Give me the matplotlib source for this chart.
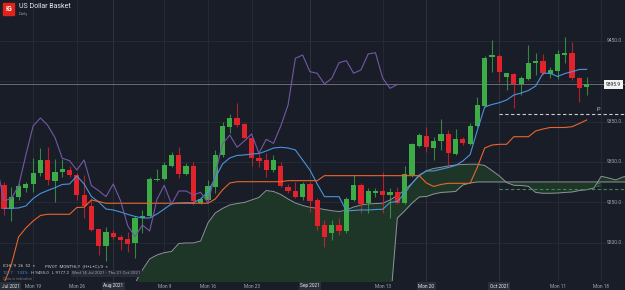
import numpy as np
import matplotlib.pyplot as plt
from matplotlib.patches import Rectangle

plt.rcParams['font.family'] = ['Roboto', 'DejaVu Sans']

# daily candles, Wed 14 Jul 2021 .. Fri 15 Oct 2021 (Sunday sessions included)
opens = [9271.8, 9241.7, 9256.2, 9268.1, 9272.3, 9286.7, 9302.4, 9276.8, 9287.5, 9290.0,
         9283.8, 9259.1, 9245.8, 9216.6, 9196.3, 9212.4, 9207.5, 9204.2, 9199.3, 9230.2,
         9233.4, 9277.3, 9278.9, 9295.0, 9308.2, 9285.1, 9295.0, 9249.5, 9252.9, 9269.3,
         9308.6, 9343.6, 9354.4, 9347.3, 9330.0, 9304.9, 9302.4, 9290.0, 9294.6, 9269.3,
         9264.4, 9257.0, 9272.7, 9252.9, 9221.9, 9212.4, 9221.9, 9214.5, 9252.9, 9271.1,
         9248.8, 9261.2, 9264.4, 9259.1, 9262.4, 9249.5, 9283.4, 9319.7, 9332.1, 9317.6,
         9325.9, 9334.6, 9309.8, 9328.7, 9322.6, 9344.5, 9369.2, 9429.5, 9431.1, 9405.5,
         9408.8, 9396.4, 9402.6, 9422.8, 9424.9, 9408.8, 9412.9, 9432.3, 9435.2, 9403.5,
         9392.4]
highs = [9275.5, 9268.6, 9273.9, 9275.5, 9304.9, 9317.2, 9318.8, 9303.6, 9303.6, 9295.0,
         9286.3, 9283.8, 9255.4, 9217.0, 9219.8, 9215.8, 9209.6, 9213.6, 9233.1, 9240.5,
         9281.7, 9290.9, 9300.3, 9312.7, 9318.8, 9299.0, 9300.3, 9256.6, 9277.7, 9314.8,
         9349.8, 9359.3, 9373.3, 9348.5, 9331.2, 9311.1, 9311.1, 9308.6, 9300.3, 9272.7,
         9275.5, 9275.5, 9275.5, 9255.4, 9228.2, 9228.2, 9230.6, 9257.0, 9283.8, 9273.5,
         9267.7, 9268.1, 9287.9, 9268.1, 9268.6, 9295.0, 9323.8, 9335.8, 9343.6, 9331.2,
         9352.8, 9339.5, 9341.1, 9331.2, 9348.5, 9380.7, 9431.1, 9450.9, 9433.6, 9410.4,
         9409.7, 9406.3, 9444.7, 9434.4, 9433.6, 9417.1, 9438.5, 9455.0, 9448.8, 9405.5,
         9404.7]
lows = [9234.3, 9227.3, 9252.9, 9263.2, 9263.2, 9282.6, 9271.5, 9250.8, 9281.7, 9281.7,
        9252.9, 9231.0, 9214.5, 9184.8, 9177.2, 9204.6, 9191.0, 9188.9, 9181.1, 9212.0,
        9231.8, 9276.4, 9277.7, 9293.7, 9279.7, 9283.8, 9246.7, 9248.5, 9251.6, 9261.5,
        9306.5, 9335.8, 9343.2, 9329.3, 9295.0, 9294.1, 9281.7, 9287.5, 9269.3, 9261.2,
        9255.0, 9252.9, 9238.4, 9215.8, 9194.3, 9203.4, 9209.6, 9211.7, 9251.6, 9236.4,
        9236.4, 9257.0, 9236.4, 9230.2, 9247.9, 9247.9, 9281.7, 9318.5, 9312.7, 9302.4,
        9314.8, 9296.2, 9308.6, 9320.9, 9320.9, 9343.2, 9368.4, 9411.7, 9399.3, 9389.0,
        9366.4, 9382.8, 9401.4, 9407.6, 9407.6, 9403.5, 9402.3, 9422.1, 9401.4, 9374.5,
        9382.8]
closes = [9241.7, 9256.2, 9270.2, 9272.7, 9286.3, 9302.4, 9277.7, 9287.5, 9291.3, 9284.2,
          9258.7, 9245.5, 9215.8, 9196.3, 9213.6, 9207.5, 9203.8, 9198.8, 9230.2, 9233.4,
          9278.9, 9279.3, 9296.2, 9308.2, 9285.1, 9295.0, 9252.0, 9254.5, 9270.2, 9308.6,
          9344.5, 9354.4, 9345.3, 9330.0, 9304.5, 9301.5, 9290.0, 9302.4, 9270.6, 9264.4,
          9257.0, 9272.7, 9252.0, 9220.7, 9207.5, 9221.9, 9214.5, 9253.7, 9271.1, 9247.6,
          9264.0, 9264.0, 9259.1, 9262.4, 9249.5, 9285.1, 9322.2, 9333.3, 9318.1, 9325.9,
          9334.6, 9310.7, 9328.0, 9323.0, 9344.5, 9370.5, 9428.2, 9432.3, 9411.7, 9409.7,
          9396.4, 9403.5, 9422.8, 9425.3, 9409.7, 9413.8, 9433.6, 9435.2, 9403.5, 9391.1,
          9395.9]

# Ichimoku (9, 26, 52)
tenkan = [9242.6, 9242.6, 9243.0, 9245.5, 9254.7, 9260.9, 9264.6, 9268.1, 9272.1, 9272.7,
          9282.6, 9272.7, 9257.2, 9250.4, 9241.7, 9240.5, 9238.0, 9235.0, 9232.5, 9230.6,
          9230.6, 9235.5, 9241.7, 9248.0, 9249.2, 9249.5, 9249.5, 9254.1, 9262.8, 9280.1,
          9297.4, 9304.9, 9308.0, 9308.6, 9309.8, 9310.4, 9313.5, 9317.2, 9318.1, 9317.2,
          9314.8, 9302.4, 9290.0, 9272.7, 9257.0, 9257.0, 9257.0, 9239.3, 9239.9, 9240.5,
          9240.5, 9241.1, 9241.4, 9249.8, 9251.0, 9260.9, 9273.3, 9283.8, 9288.8, 9288.8,
          9290.9, 9293.1, 9295.6, 9301.1, 9309.2, 9339.5, 9368.0, 9371.1, 9373.3, 9376.6,
          9382.8, 9385.3, 9388.4, 9394.0, 9409.7, 9409.7, 9405.7, 9409.4, 9411.7, 9414.4,
          9414.6]
kijun = [9150.0, 9172.4, 9207.1, 9218.2, 9226.9, 9233.7, 9235.2, 9235.2, 9235.2, 9235.2,
         9243.6, 9243.9, 9252.9, 9251.0, 9248.8, 9248.8, 9248.8, 9248.8, 9248.8, 9248.8,
         9248.8, 9248.8, 9248.8, 9248.8, 9248.8, 9248.8, 9248.8, 9248.8, 9248.8, 9254.1,
         9265.3, 9273.9, 9275.5, 9275.5, 9275.5, 9275.5, 9275.5, 9275.5, 9275.5, 9276.8,
         9276.8, 9276.8, 9276.8, 9276.8, 9283.0, 9283.0, 9283.0, 9283.0, 9283.0, 9283.0,
         9283.0, 9283.0, 9283.0, 9283.0, 9283.0, 9283.0, 9283.0, 9283.0, 9273.9, 9269.6,
         9272.1, 9273.5, 9273.5, 9273.5, 9273.5, 9293.7, 9317.2, 9320.9, 9321.8, 9321.8,
         9331.2, 9331.2, 9331.2, 9338.3, 9340.7, 9342.6, 9342.6, 9342.6, 9343.6, 9347.6,
         9351.9]
cloud_start = 18
span_a = [9150.1, 9166.2, 9179.9, 9184.8, 9187.7, 9189.1, 9199.0, 9199.7, 9199.7, 9202.1,
          9224.4, 9236.8, 9242.4, 9246.7, 9248.5, 9249.8, 9252.9, 9256.0, 9264.6, 9263.4,
          9259.7, 9254.1, 9249.2, 9246.1, 9243.8, 9242.6, 9241.1, 9239.6, 9238.6, 9240.3,
          9244.2, 9246.7, 9247.9, 9248.5, 9248.9, 9252.9, 9258.4, 9265.3, 9273.5, 9282.6,
          9289.1, 9291.9, 9293.3, 9295.0, 9296.2, 9296.8, 9297.1, 9297.1, 9295.6, 9289.4,
          9282.6, 9274.5, 9271.1, 9270.8, 9269.8, 9262.2, 9261.2, 9261.2, 9261.5, 9262.2,
          9262.8, 9264.6, 9265.6, 9267.7, 9282.2, 9280.1, 9277.7, 9281.4, 9282.6]
span_b = [9120.0, 9120.0, 9120.0, 9120.0, 9120.0, 9120.0, 9120.0, 9120.0, 9120.0, 9120.0,
          9120.0, 9120.0, 9120.0, 9120.0, 9120.0, 9120.0, 9120.0, 9120.0, 9120.0, 9120.0,
          9120.0, 9120.0, 9120.0, 9120.0, 9120.0, 9120.0, 9120.0, 9120.0, 9120.0, 9120.0,
          9120.0, 9120.0, 9120.0, 9120.0, 9120.0, 9120.0, 9230.6, 9239.3, 9248.8, 9256.6,
          9257.2, 9260.3, 9262.2, 9262.8, 9263.4, 9271.5, 9273.9, 9275.2, 9275.2, 9275.2,
          9275.2, 9275.2, 9275.2, 9275.2, 9275.2, 9275.2, 9275.2, 9275.2, 9275.2, 9275.2,
          9275.2, 9275.2, 9275.2, 9275.2, 9275.2, 9275.2, 9275.2, 9275.2, 9275.2]
chikou_shift = 26

# monthly pivot (October)
pivot_p = 9359.3
pivot_s1 = 9266.1
pivot_from = 68

last_price = 9395.9
y_ticks = [9200, 9250, 9300, 9350, 9400, 9450]
y_labels = ['9200.0', '9250.0', '9300.0', '9350.0', '', '9450.0']
x_tick_idx = [4, 10, 15, 22, 28, 34, 42, 52, 58, 68, 76, 82]
x_tick_labels = ['Mon 19', 'Mon 26', 'Aug 2021', 'Mon 9', 'Mon 16', 'Mon 23',
                 'Sep 2021', 'Mon 13', 'Mon 20', 'Oct 2021', 'Mon 11', 'Mon 18']

bg = '#191d28'
grid_c = '#272c38'
green = '#3dac47'
red = '#e3232b'

fig = plt.figure(figsize=(6.25, 2.9), dpi=100, facecolor=bg)
ax = fig.add_axes([0, 9 / 290, 1, 281 / 290], facecolor=bg)
for s in ax.spines.values():
    s.set_visible(False)
ax.set_xticks([])
ax.set_yticks([])
ax.set_xlim(-0.55, 85.26)
ax.set_ylim(9152.6, 9500.4)

for v in y_ticks:
    ax.axhline(v, color=grid_c, lw=0.6, zorder=0)
for i, lab in zip(x_tick_idx, x_tick_labels):
    ax.axvline(i, color='#30353f' if '20' in lab else grid_c, lw=0.6, zorder=0)

# cloud
ci = np.arange(cloud_start, cloud_start + len(span_a))
ax.fill_between(ci, span_a, span_b, color='#1e3628', lw=0, zorder=1)
ax.plot(ci, span_a, color='#8e9595', lw=0.7, zorder=2)
ax.plot(ci, span_b, color='#8e9595', lw=0.7, zorder=2)

# candles
idx = np.arange(len(closes))
o = np.array(opens)
c = np.array(closes)
up = c >= o
cols = np.where(up, green, red)
ax.vlines(idx, lows, highs, colors=cols, lw=0.8, alpha=0.75, zorder=3)
ax.bar(idx, np.maximum(np.abs(c - o), 1.2), bottom=np.minimum(o, c), width=0.72,
       color=cols, lw=0, zorder=3)

# lines
ax.plot(idx, tenkan, color='#4a94dc', lw=0.8, zorder=4)
ax.plot(idx, kijun, color='#e8652a', lw=0.8, zorder=4)
ch = closes[chikou_shift - 1:]
ax.plot(np.arange(-1, len(ch) - 1), ch, color='#7458a4', lw=0.8, zorder=4)

# last price
ax.axhline(last_price, color='#737884', lw=0.6, zorder=2)
yt = ax.get_yaxis_transform()
ax.text(0.9695, last_price, f'{last_price:.1f}', transform=yt, fontsize=3.6, color='#1b1f2a',
        va='center', ha='left', zorder=6,
        bbox=dict(boxstyle='square,pad=0.35', fc='#f2f2f2', ec='none'))
for v, lab in zip(y_ticks, y_labels):
    ax.text(0.9715, v, lab, transform=yt, fontsize=3.6, color='#9aa0aa', va='center', ha='left')

# pivot lines
ax.hlines(pivot_p, pivot_from, 85.3, colors='#c8cbd0', lw=0.8, linestyles=(0, (3, 2.2)), zorder=2)
ax.hlines(pivot_s1, pivot_from, 85.3, colors='#3e8a52', lw=0.8, linestyles=(0, (3, 2.2)), zorder=2)
ax.text(81.3, pivot_p + 2.5, 'P', color='#c8cbd0', fontsize=4, va='bottom')
ax.text(81.3, pivot_s1 + 1, 'S1', color='#3fa055', fontsize=4, va='bottom')

# x labels
xt = ax.get_xaxis_transform()
yl = -5 / 281
ax.text(-0.3, yl, 'Jul 2021', transform=xt, fontsize=3.4, color='#e6e8eb', va='center', ha='left',
        bbox=dict(boxstyle='square,pad=0.3', fc='#2a2f3a', ec='none'), clip_on=False)
for i, lab in zip(x_tick_idx, x_tick_labels):
    if '20' in lab:
        ax.text(i, yl, lab, transform=xt, fontsize=3.4, color='#e6e8eb', va='center', ha='center',
                bbox=dict(boxstyle='square,pad=0.3', fc='#2a2f3a', ec='none'), clip_on=False)
    else:
        ax.text(i, yl, lab, transform=xt, fontsize=3.4, color='#a3a8b0', va='center', ha='center',
                clip_on=False)

# header
fig.add_artist(Rectangle((3 / 625, 1 - 15 / 290), 11 / 625, 12 / 290,
                         transform=fig.transFigure, color='#e2231a'))
fig.text(8.5 / 625, 1 - 9 / 290, 'IG', color='white', fontsize=5, weight='bold',
         ha='center', va='center')
fig.text(19 / 625, 1 - 6 / 290, 'US Dollar Basket', color='#e6e8eb', fontsize=5, va='center')
fig.text(19 / 625, 1 - 13.5 / 290, 'Daily', color='#8d939c', fontsize=3, va='center')

# info panel
r1 = 1 - 265.7 / 290
r2 = 1 - 273.3 / 290
r3 = 1 - 279.5 / 290
fig.text(3 / 625, r1, 'ICHI  9  26  52  ×', color='#c9ccd1', fontsize=3.2, va='center')
fig.text(45 / 625, r1, 'PIVOT  MONTHLY  (H+L+C)/3  ×', color='#c9ccd1', fontsize=3.2, va='center')
fig.text(3 / 625, r2, '121.7', color='#3d8fe0', fontsize=3.2, va='center')
fig.text(17 / 625, r2, '1.33%', color='#3d8fe0', fontsize=3.2, va='center')
fig.text(31 / 625, r2, 'H 9455.0', color='#c9ccd1', fontsize=3.2, va='center')
fig.text(52 / 625, r2, 'L 9177.2', color='#c9ccd1', fontsize=3.2, va='center')
fig.text(72 / 625, r2, 'Wed 14 Jul 2021 - Thu 21 Oct 2021', color='#9aa0aa', fontsize=3.2,
         va='center', bbox=dict(boxstyle='square,pad=0.3', fc='#262b36', ec='none'))
fig.text(3 / 625, r3, 'Data is indicative', color='#6b717b', fontsize=2.8, va='center')

fig.savefig('out.png', dpi=100, facecolor=bg)
